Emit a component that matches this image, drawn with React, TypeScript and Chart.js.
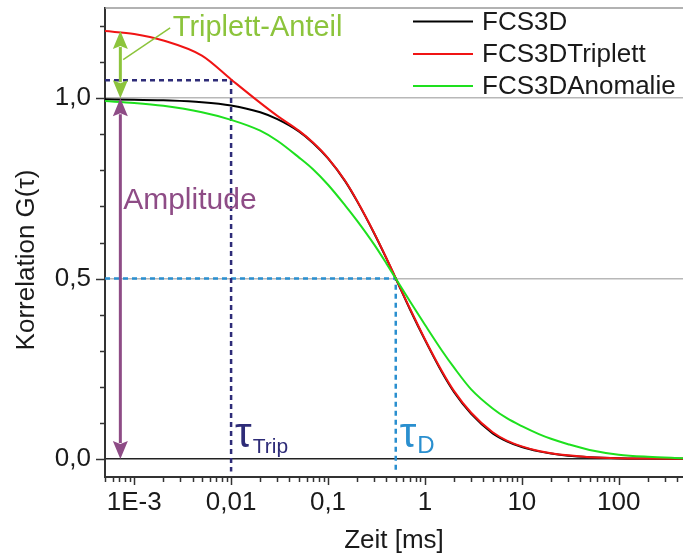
import React, { useEffect, useRef } from "react";
import { Chart, registerables } from "chart.js";

Chart.register(...registerables);

// Lag time τ in ms (log axis)
const times = [5e-4, 1e-3, 2e-3, 5e-3, 0.01, 0.02, 0.03, 0.05, 0.07, 0.1, 0.15, 0.2, 0.3, 0.4, 0.5, 0.7, 1, 1.5, 2, 3, 5, 7, 10, 15, 20, 30, 50, 100, 200, 460];

// Series
const fcs3d = [0.997, 0.996, 0.994, 0.989, 0.980, 0.961, 0.942, 0.908, 0.876, 0.833, 0.770, 0.714, 0.625, 0.556, 0.500, 0.415, 0.330, 0.240, 0.185, 0.125, 0.071, 0.049, 0.033, 0.021, 0.015, 0.009, 0.005, 0.002, 0.001, 0.0003];
const fcs3dTriplett = [1.186, 1.178, 1.160, 1.118, 1.052, 0.987, 0.951, 0.910, 0.877, 0.834, 0.771, 0.715, 0.626, 0.557, 0.501, 0.417, 0.332, 0.243, 0.188, 0.128, 0.074, 0.051, 0.035, 0.022, 0.016, 0.010, 0.005, 0.002, 0.001, 0.0003];
const fcs3dAnomalie = [0.992, 0.987, 0.979, 0.961, 0.940, 0.910, 0.882, 0.836, 0.803, 0.760, 0.703, 0.660, 0.594, 0.542, 0.500, 0.437, 0.372, 0.300, 0.253, 0.193, 0.140, 0.113, 0.091, 0.069, 0.056, 0.041, 0.025, 0.012, 0.006, 0.002];

const seriesNames = ["FCS3D", "FCS3DTriplett", "FCS3DAnomalie"];

// Axis ticks
const xMajorTicks = [1e-3, 1e-2, 1e-1, 1, 10, 100];
const xTickLabels = ["1E-3", "0,01", "0,1", "1", "10", "100"];
const yMajorTicks = [0, 0.5, 1.0];
const yTickLabels = ["0,0", "0,5", "1,0"];
const xRange = [5e-4, 460];
const yRange = [-0.05, 1.25];

// Annotation values
const tauTrip = 0.01;
const tripLevel = 1.05;
const tauD = 0.5;
const halfLevel = 0.5;
const lineFloor = -0.035;
const arrowTime = 7.2e-4;
const tripStart = 1.186;
const amplitude = 1.0;

const FONT = "'Liberation Sans', Arial, 'DejaVu Sans', sans-serif";
const TXT = "#1a1a1a";

function vArrow(ctx: CanvasRenderingContext2D, x: number, yTop: number, yBot: number, color: string, shaftW: number, headW: number, headL: number) {
  ctx.save();
  ctx.strokeStyle = color;
  ctx.fillStyle = color;
  ctx.lineWidth = shaftW;
  ctx.beginPath();
  ctx.moveTo(x, yTop + headL - 2);
  ctx.lineTo(x, yBot - headL + 2);
  ctx.stroke();
  ctx.beginPath();
  ctx.moveTo(x, yTop);
  ctx.lineTo(x - headW / 2, yTop + headL);
  ctx.lineTo(x, yTop + headL - 3);
  ctx.lineTo(x + headW / 2, yTop + headL);
  ctx.closePath();
  ctx.fill();
  ctx.beginPath();
  ctx.moveTo(x, yBot);
  ctx.lineTo(x - headW / 2, yBot - headL);
  ctx.lineTo(x, yBot - headL + 3);
  ctx.lineTo(x + headW / 2, yBot - headL);
  ctx.closePath();
  ctx.fill();
  ctx.restore();
}

const fcsPlugin = {
  id: "fcsDecor",
  afterDatasetsDraw(chart: any) {
    const { ctx, scales } = chart;
    const x = scales.x;
    const y = scales.y;
    const ax = x.getPixelForValue(arrowTime);

    // Triplett arrow (green)
    const green = "#8cc43c";
    vArrow(ctx, ax, y.getPixelForValue(tripStart), y.getPixelForValue(amplitude), green, 3, 15, 18);
    ctx.save();
    ctx.strokeStyle = green;
    ctx.lineWidth = 1.5;
    ctx.beginPath();
    ctx.moveTo(x.getPixelForValue(7.7e-4), y.getPixelForValue(1.107));
    ctx.lineTo(x.getPixelForValue(2.35e-3), y.getPixelForValue(1.195));
    ctx.stroke();
    ctx.fillStyle = green;
    ctx.font = `29px ${FONT}`;
    ctx.textBaseline = "alphabetic";
    ctx.textAlign = "left";
    ctx.fillText("Triplett-Anteil", x.getPixelForValue(2.5e-3), y.getPixelForValue(1.172));
    ctx.restore();

    // Amplitude arrow (purple)
    const purple = "#8e4c86";
    vArrow(ctx, ax, y.getPixelForValue(amplitude), y.getPixelForValue(0), purple, 3, 15, 18);
    ctx.save();
    ctx.fillStyle = purple;
    ctx.font = `30px ${FONT}`;
    ctx.textBaseline = "alphabetic";
    ctx.textAlign = "left";
    ctx.fillText("Amplitude", x.getPixelForValue(7.7e-4), y.getPixelForValue(0.692));
    ctx.restore();

    // τ labels
    const drawTau = (t: number, sub: string, color: string, subSize: number) => {
      const px = x.getPixelForValue(t) + 4;
      const base = y.getPixelForValue(0.033);
      ctx.save();
      ctx.fillStyle = color;
      ctx.textAlign = "left";
      ctx.textBaseline = "alphabetic";
      ctx.font = `42px ${FONT}`;
      ctx.fillText("τ", px, base);
      const w = ctx.measureText("τ").width;
      ctx.font = `${subSize}px ${FONT}`;
      ctx.fillText(sub, px + w + 1, base + 6);
      ctx.restore();
    };
    drawTau(tauTrip, "Trip", "#2e2c78", 21);
    drawTau(tauD, "D", "#2a8fcf", 24);
  },
  afterDraw(chart: any) {
    const { ctx, chartArea, scales } = chart;
    const x = scales.x;
    const y = scales.y;
    ctx.save();
    // top frame
    ctx.strokeStyle = "#999";
    ctx.lineWidth = 1.5;
    ctx.beginPath();
    ctx.moveTo(chartArea.left, chartArea.top);
    ctx.lineTo(chartArea.right, chartArea.top);
    ctx.stroke();

    // x tick marks
    ctx.strokeStyle = "#333";
    ctx.lineWidth = 1.5;
    for (let e = -4; e <= 2; e++) {
      for (let k = 1; k <= 9; k++) {
        const v = k * Math.pow(10, e);
        if (v < xRange[0] || v > xRange[1]) continue;
        const px = Math.round(x.getPixelForValue(v)) + 0.5;
        const len = k === 1 ? 8 : 5;
        ctx.beginPath();
        ctx.moveTo(px, chartArea.bottom);
        ctx.lineTo(px, chartArea.bottom + len);
        ctx.stroke();
      }
    }
    // y tick marks
    for (let i = 0; i <= 12; i++) {
      const v = i / 10;
      const py = Math.round(y.getPixelForValue(v)) + 0.5;
      const len = i % 5 === 0 ? 9 : 5;
      ctx.beginPath();
      ctx.moveTo(chartArea.left, py);
      ctx.lineTo(chartArea.left - len, py);
      ctx.stroke();
    }

    // y title
    ctx.save();
    ctx.translate(27, 260);
    ctx.rotate(-Math.PI / 2);
    ctx.fillStyle = TXT;
    ctx.font = `26px ${FONT}`;
    ctx.textAlign = "center";
    ctx.textBaseline = "middle";
    ctx.fillText("Korrelation G(τ)", 0, 0);
    ctx.restore();

    // legend
    const colors = ["#000000", "#f01414", "#1ee01e"];
    const rows = [21.5, 54, 86];
    ctx.font = `26px ${FONT}`;
    ctx.textAlign = "left";
    ctx.textBaseline = "middle";
    seriesNames.forEach((name, i) => {
      ctx.strokeStyle = colors[i];
      ctx.lineWidth = 2;
      ctx.beginPath();
      ctx.moveTo(413, rows[i]);
      ctx.lineTo(473, rows[i]);
      ctx.stroke();
      ctx.fillStyle = TXT;
      ctx.fillText(name, 482, rows[i] + 1);
    });
    ctx.restore();
  },
};

export default function App() {
  const canvasRef = useRef<HTMLCanvasElement | null>(null);

  useEffect(() => {
    document.body.style.margin = "0";
    const canvas = canvasRef.current;
    if (!canvas) return;
    const mk = (arr: number[]) => times.map((t, i) => ({ x: t, y: arr[i] }));
    const tickFont = { family: FONT, size: 26 };
    const chart = new Chart(canvas, {
      type: "line",
      data: {
        datasets: [
          { label: seriesNames[2], data: mk(fcs3dAnomalie), borderColor: "#1ee01e", borderWidth: 2, pointRadius: 0, cubicInterpolationMode: "monotone", order: 1 },
          { label: seriesNames[1], data: mk(fcs3dTriplett), borderColor: "#f01414", borderWidth: 2, pointRadius: 0, cubicInterpolationMode: "monotone", order: 2 },
          { label: seriesNames[0], data: mk(fcs3d), borderColor: "#000000", borderWidth: 2, pointRadius: 0, cubicInterpolationMode: "monotone", order: 3 },
          { label: "tauTrip", data: [{ x: xRange[0], y: tripLevel }, { x: tauTrip, y: tripLevel }, { x: tauTrip, y: lineFloor }], borderColor: "#2e2c78", borderWidth: 2.5, borderDash: [5, 4], pointRadius: 0, tension: 0, order: 4 },
          { label: "tauD", data: [{ x: xRange[0], y: halfLevel }, { x: tauD, y: halfLevel }, { x: tauD, y: lineFloor }], borderColor: "#2a8fcf", borderWidth: 2.5, borderDash: [5, 4], pointRadius: 0, tension: 0, order: 5 },
        ],
      } as any,
      options: {
        animation: false,
        responsive: false,
        layout: { padding: { top: 8, left: 0, right: 0, bottom: 0 } },
        plugins: { legend: { display: false }, tooltip: { enabled: false } },
        scales: {
          x: {
            type: "logarithmic",
            min: xRange[0],
            max: xRange[1],
            afterBuildTicks: (s: any) => {
              s.ticks = xMajorTicks.map((v) => ({ value: v }));
            },
            afterFit: (s: any) => {
              s.height = 81;
              s.paddingLeft = 0;
              s.paddingRight = 0;
            },
            ticks: {
              autoSkip: false,
              maxRotation: 0,
              minRotation: 0,
              padding: 10,
              color: TXT,
              font: tickFont,
              callback: (_v: any, i: number) => xTickLabels[i],
            },
            grid: { display: false, drawTicks: false },
            border: { display: true, color: "#333", width: 2 },
            title: { display: true, text: "Zeit [ms]", color: TXT, font: tickFont, padding: { top: 0, bottom: 2 } },
          },
          y: {
            type: "linear",
            min: yRange[0],
            max: yRange[1],
            afterBuildTicks: (s: any) => {
              s.ticks = yMajorTicks.map((v) => ({ value: v }));
            },
            afterFit: (s: any) => {
              s.width = 105;
              s.paddingTop = 0;
              s.paddingBottom = 0;
            },
            ticks: {
              padding: 14,
              color: TXT,
              font: tickFont,
              callback: (_v: any, i: number) => yTickLabels[i],
            },
            grid: {
              drawTicks: false,
              lineWidth: 1.5,
              color: (c: any) => (c.tick && c.tick.value === 0 ? "#222" : "#b8b8b8"),
            },
            border: { display: true, color: "#333", width: 2 },
          },
        },
      } as any,
      plugins: [fcsPlugin],
    });
    return () => chart.destroy();
  }, []);

  return (
    <div style={{ position: "fixed", left: 0, top: 0, width: 683, height: 558, background: "#fff" }}>
      <canvas ref={canvasRef} width={683} height={558} />
    </div>
  );
}
